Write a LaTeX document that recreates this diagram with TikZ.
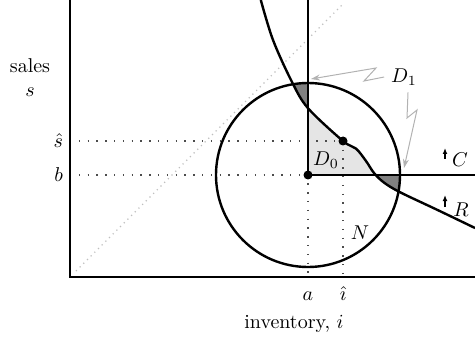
\documentclass[tikz,border=0pt]{standalone}
\usepackage{amsmath, amssymb}
\usepackage{xcolor}
\usepackage{tikz}
\usetikzlibrary{arrows.meta,calc,positioning}

\newcommand{\demandcurve}{plot[smooth, tension=0.55] coordinates {(4.77,6.925) (5.075,5.925) (5.55,4.875) (5.95,4.22) (6.825,3.4) (7.15,3.21) (7.4,2.9) (7.6,2.6) (7.85,2.36) (8.25,2.12) (9.2,1.67) (10.125,1.225)}}

\begin{document}
\begin{tikzpicture}[x=20pt, y=20pt,
		curve/.style={line width=1.2pt},
		guide/.style={line width=0.7pt, black!70, dash pattern=on 0.7pt off 3.7pt},
		bolt/.style={black!30, line width=0.5pt, -{Stealth[length=4.5pt, width=3pt]}},
		shiftarrow/.style={line width=0.6pt, -{Latex[length=3pt, width=2.4pt]}},
		dot/.style={circle, fill, inner sep=0pt, minimum size=4.5pt}]
		\useasboundingbox (-1.75,-1.5) rectangle (10.125,6.925);
		\coordinate (O) at (0,0);
		\coordinate (ytop) at (0,6.925);
		\coordinate (xend) at (10.125,0);
		\coordinate (A) at (5.95,2.55);
		\coordinate (P) at (6.825,3.4);
		\coordinate (Atop) at (5.95,6.925);
		\coordinate (Cend) at (10.125,2.55);
		\begin{scope}
			\clip (A) rectangle (10.125,6.925);
			\fill[black!10] \demandcurve -- (10.125,0) -- (O) -- (ytop) -- cycle;
		\end{scope}
		\begin{scope}
			\clip (A) circle (2.3);
			\clip \demandcurve -- (10.125,6.925) -- cycle;
			\fill[black!50, even odd rule] (O) rectangle (10.125,6.925) (A) rectangle (10.125,6.925);
		\end{scope}
		\draw[black!25, dotted, line width=0.6pt] (0.15,0.15) -- (6.825,6.825);
		\draw[guide] (A -| O) -- (A) -- (A |- O);
		\draw[guide] (P -| O) -- (P) -- (P |- O);
		\draw[line width=0.6pt] (ytop) -- (O) -- (xend);
		\draw[curve] (A) circle (2.3);
		\draw[curve] (Atop) -- (A) -- (Cend);
		\draw[curve] \demandcurve;
		\node[dot] (a) at (A) {};
		\node[dot] (p) at (P) {};
		\node[left] (bl) at (A -| O) {$b$};
		\node[left] (sl) at (P -| O) {$\hat{s}$};
		\node[align=center] (yl) at (-1,4.975) {sales\\$s$};
		\node[anchor=base] (al) at (5.95,-0.575) {$a$};
		\node[anchor=base] (il) at (6.825,-0.575) {$\hat{\imath}$};
		\node[anchor=base] (xl) at (5.6,-1.275) {inventory, $i$};
		\node (d0) at (6.4,2.925) {$D_0$};
		\node (d1) at (8.35,5.0) {$D_1$};
		\node (n) at (7.25,1.1) {$N$};
		\node (c) at (9.75,2.925) {$C$};
		\node (r) at (9.775,1.675) {$R$};
		\coordinate (cfoot) at (9.375,2.95);
		\coordinate (chead) at (9.375,3.225);
		\coordinate (rfoot) at (9.375,1.75);
		\coordinate (rhead) at (9.375,2.05);
		\draw[shiftarrow] (cfoot) -- (chead);
		\draw[shiftarrow] (rfoot) -- (rhead);
		\coordinate (topaim) at (6.025,4.95);
		\coordinate (sideaim) at (8.35,2.725);
		\draw[bolt] (d1.west) -- (7.35,4.9) -- (7.65,5.225) -- (topaim);
		\draw[bolt] ([xshift=2pt]d1.south) -- (8.425,3.975) -- (8.675,4.175) -- (sideaim);
	\end{tikzpicture}
\end{document}
